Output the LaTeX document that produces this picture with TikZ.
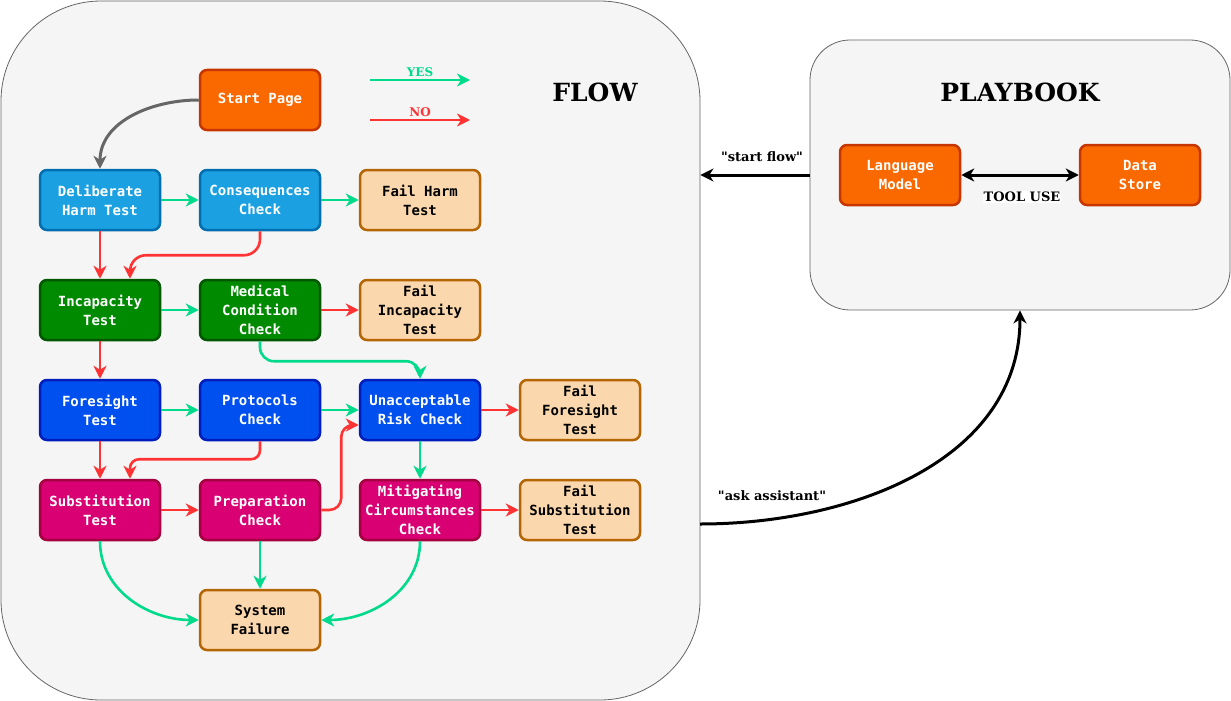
\documentclass[tikz,border=0pt]{standalone}
\usepackage{fontspec}
\setmonofont{DejaVu Sans Mono}
\newfontfamily\labelfont{DejaVu Serif}
\usetikzlibrary{arrows.meta}
\definecolor{panelfill}{HTML}{F5F5F5}
\definecolor{panelline}{HTML}{666666}
\definecolor{orangefill}{HTML}{FA6800}
\definecolor{orangeline}{HTML}{C73500}
\definecolor{skyfill}{HTML}{1BA1E2}
\definecolor{skyline}{HTML}{006EAF}
\definecolor{greenfill}{HTML}{008A00}
\definecolor{greenline}{HTML}{005700}
\definecolor{bluefill}{HTML}{0050EF}
\definecolor{blueline}{HTML}{001DBC}
\definecolor{pinkfill}{HTML}{D80073}
\definecolor{pinkline}{HTML}{A50040}
\definecolor{failfill}{HTML}{FAD7AC}
\definecolor{failline}{HTML}{B46504}
\definecolor{yescol}{HTML}{00DB8B}
\definecolor{nocol}{HTML}{FF3333}
\begin{document}
\begin{tikzpicture}[x = 1pt, y = -1pt, >={Stealth[length = 13pt, width = 13pt, inset = 4pt]},
	panel/.style = {draw = panelline, fill = panelfill, line width = .8pt},
	box/.style = {rounded corners = 7pt, line width = 2.5pt, minimum width = 120pt, minimum height = 60pt, inner sep = 0pt, align = center, text = white, font = \ttfamily\bfseries\fontsize{14}{19}\selectfont},
	orangebox/.style = {box, fill = orangefill, draw = orangeline},
	skybox/.style = {box, fill = skyfill, draw = skyline},
	greenbox/.style = {box, fill = greenfill, draw = greenline},
	bluebox/.style = {box, fill = bluefill, draw = blueline},
	pinkbox/.style = {box, fill = pinkfill, draw = pinkline},
	failbox/.style = {box, fill = failfill, draw = failline, text = black},
	yes/.style = {->, draw = yescol, line width = 2.6pt},
	no/.style = {->, draw = nocol, line width = 2.6pt},
	ctl/.style = {draw = black, line width = 3pt},
	lbl/.style = {font = \labelfont\bfseries\fontsize{13}{15}\selectfont},
	title/.style = {font = \labelfont\bfseries\fontsize{25}{30}\selectfont}]
	\useasboundingbox (0,0) rectangle (1231,701);
	\node[panel, rounded corners = 100pt, minimum width = 699pt, minimum height = 699pt] (flow) at (350.5,350.5) {}; %flow panel
	\node[panel, rounded corners = 40pt, minimum width = 420pt, minimum height = 270pt] (pb) at (1020,175) {}; %playbook panel
	\node[title] (flowtitle) at (595,92) {FLOW};
	\node[title] (pbtitle) at (1020,92) {PLAYBOOK};
	% legend
	\coordinate (yesa) at (370,80);
	\coordinate (yesb) at (470,80);
	\coordinate (noa) at (370,120);
	\coordinate (nob) at (470,120);
	\draw[yes] (yesa) -- node[above, inner sep = 2pt, text = yescol, font = \labelfont\bfseries\fontsize{12}{14}\selectfont] {YES} (yesb);
	\draw[no] (noa) -- node[above, inner sep = 2pt, text = nocol, font = \labelfont\bfseries\fontsize{12}{14}\selectfont] {NO} (nob);
	% flow nodes
	\node[orangebox] (start) at (260,100) {Start Page};
	\node[skybox] (harm) at (100,200) {Deliberate\\Harm Test};
	\node[skybox] (cons) at (260,200) {Consequences\\Check};
	\node[failbox] (failharm) at (420,200) {Fail Harm\\Test};
	\node[greenbox] (inc) at (100,310) {Incapacity\\Test};
	\node[greenbox] (med) at (260,310) {Medical\\Condition\\Check};
	\node[failbox] (failinc) at (420,310) {Fail\\Incapacity\\Test};
	\node[bluebox] (fore) at (100,410) {Foresight\\Test};
	\node[bluebox] (prot) at (260,410) {Protocols\\Check};
	\node[bluebox] (risk) at (420,410) {Unacceptable\\Risk Check};
	\node[failbox] (failfore) at (580,410) {Fail\\Foresight\\Test};
	\node[pinkbox] (subs) at (100,510) {Substitution\\Test};
	\node[pinkbox] (prep) at (260,510) {Preparation\\Check};
	\node[pinkbox] (mit) at (420,510) {Mitigating\\Circumstances\\Check};
	\node[failbox] (failsubs) at (580,510) {Fail\\Substitution\\Test};
	\node[failbox] (sys) at (260,620) {System\\Failure};
	% flow connectors
	\draw[->, draw = panelline, line width = 3pt] (start.west) to[out = 180, in = 90] (harm.north);
	\draw[yes] (harm) -- (cons);
	\draw[yes] (cons) -- (failharm);
	\draw[no] (harm) -- (inc);
	\draw[no, rounded corners = 16pt] (cons.south) -- ++(0,24) -| ([xshift = 30pt]inc.north);
	\draw[yes] (inc) -- (med);
	\draw[no] (med) -- (failinc);
	\draw[yes, rounded corners = 14pt] (med.south) -- ++(0,20) -| (risk.north);
	\draw[no] (inc) -- (fore);
	\draw[yes] (fore) -- (prot);
	\draw[yes] (prot) -- (risk);
	\draw[no] (risk) -- (failfore);
	\draw[no] (fore) -- (subs);
	\draw[no, rounded corners = 9pt] (prot.south) -- ++(0,18) -| ([xshift = 30pt]subs.north);
	\draw[no] (subs) -- (prep);
	\draw[no, rounded corners = 12pt] (prep.east) -- ++(20,0) |- ([yshift = -15pt]risk.west);
	\draw[yes] (risk) -- (mit);
	\draw[no] (mit) -- (failsubs);
	\draw[yes] (prep) -- (sys);
	\draw[yes] (subs.south) to[out = 270, in = 180] (sys.west);
	\draw[yes] (mit.south) to[out = 270, in = 0] (sys.east);
	% playbook
	\node[orangebox] (lm) at (900,175) {Language\\Model};
	\node[orangebox] (ds) at (1140,175) {Data\\Store};
	\draw[ctl, <->] (lm) -- (ds);
	\node[lbl, fill = white, inner sep = 1pt] (tool) at (1022,197) {TOOL USE};
	\draw[ctl, ->] (pb.west) -- (pb.west -| flow.east);
	\node[lbl] (startlbl) at (762,157) {"start flow"};
	\coordinate (ask) at (700,524);
	\draw[ctl, ->] (ask) to[out = 0, in = 270] (pb.south);
	\node[lbl] (asklbl) at (772,496) {"ask assistant"};
\end{tikzpicture}
\end{document}
